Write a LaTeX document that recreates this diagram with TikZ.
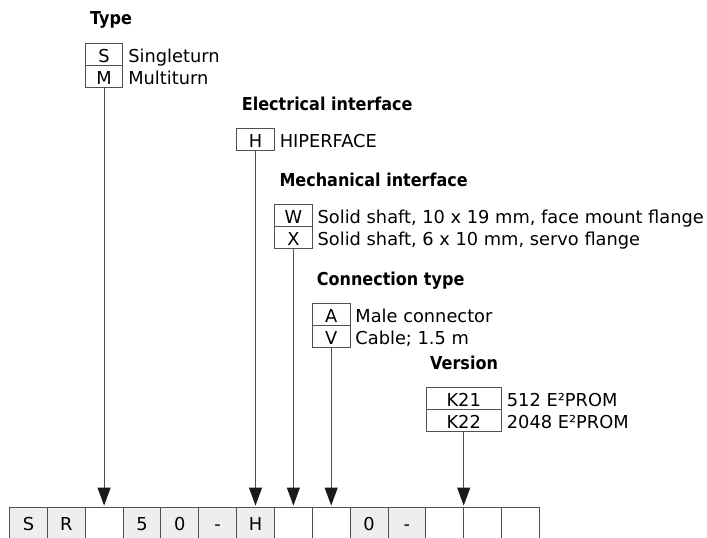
\documentclass[tikz,border=0pt]{standalone}
\usepackage{fontspec}
\setmainfont{DejaVu Sans}
\newfontfamily\headfont[FakeStretch=0.9]{DejaVu Sans}
\usetikzlibrary{arrows.meta}
\definecolor{ln}{HTML}{505050}
\definecolor{tip}{HTML}{1A1A1A}
\definecolor{cellfill}{HTML}{EEEEEE}
\begin{document}
\begin{tikzpicture}[x=1pt,y=-1pt,
  every node/.style={font=\fontsize{17.8}{20}\selectfont, text=black},
  codebox/.style={draw=ln, line width=0.9pt, minimum width=37.6pt, minimum height=22.2pt, inner sep=0pt, text height=16.2pt, text depth=0pt},
  optlabel/.style={anchor=west, inner sep=0pt, minimum height=22.2pt, text height=16.2pt, text depth=0pt},
  heading/.style={anchor=base west, inner sep=0pt, font=\headfont\bfseries\fontsize{17.8}{20}\selectfont},
  cellbox/.style={draw=ln, line width=0.9pt, minimum width=37.85pt, minimum height=37.7pt, inner sep=0pt, text height=12pt, text depth=4.3pt},
  arr/.style={draw=ln, line width=0.9pt, -{Triangle[length=18pt,width=13pt,fill=tip,color=tip]}, shorten >=1.3pt}
]
\useasboundingbox (0,0) rectangle (707,538);
\clip (0,0) rectangle (707,538);

% headings
\node[heading] (hType) at (90,24) {Type};
\node[heading] (hElec) at (241.7,110.7) {Electrical interface};
\node[heading] (hMech) at (279.3,186) {Mechanical interface};
\node[heading] (hConn) at (316.7,285) {Connection type};
\node[heading] (hVers) at (430,369) {Version};

% option boxes
\node[codebox] (typeS) at (104.1,54.6) {S};
\node[codebox] (typeM) at (104.1,76.8) {M};
\node[optlabel] (lS) at ([xshift=4.8pt]typeS.east) {Singleturn};
\node[optlabel] (lM) at ([xshift=4.8pt]typeM.east) {Multiturn};

\node[codebox] (elH) at (255.5,139.1) {H};
\node[optlabel] (lH) at ([xshift=4.8pt]elH.east) {HIPERFACE};

\node[codebox] (meW) at (293.4,215.1) {W};
\node[codebox] (meX) at (293.4,237.3) {X};
\node[optlabel] (lW) at ([xshift=4.8pt]meW.east) {Solid shaft, 10 x 19 mm, face mount flange};
\node[optlabel] (lX) at ([xshift=4.8pt]meX.east) {Solid shaft, 6 x 10 mm, servo flange};

\node[codebox] (coA) at (331.2,314.6) {A};
\node[codebox] (coV) at (331.2,336.8) {V};
\node[optlabel] (lA) at ([xshift=4.8pt]coA.east) {Male connector};
\node[optlabel] (lV) at ([xshift=4.8pt]coV.east) {Cable; 1.5 m};

\node[codebox, minimum width=75.5pt] (veA) at (463.7,398.4) {K21};
\node[codebox, minimum width=75.5pt] (veB) at (463.7,420.6) {K22};
\node[optlabel] (lK1) at ([xshift=4.8pt]veA.east) {512 E²PROM};
\node[optlabel] (lK2) at ([xshift=4.8pt]veB.east) {2048 E²PROM};

% bottom row of cells
\foreach \i/\t/\f in {1/S/cellfill,2/R/cellfill,3//white,4/5/cellfill,5/0/cellfill,6/-/cellfill,7/H/cellfill,8//white,9//white,10/0/cellfill,11/-/cellfill,12//white,13//white,14//white}{
  \node[cellbox, fill=\f] (c\i) at ({9.5+(\i-0.5)*37.85},526.15) {\t};
}

% connectors
\draw[arr] (typeM.south) -- (typeM.south |- c3.north);
\draw[arr] (elH.south) -- (elH.south |- c7.north);
\draw[arr] (meX.south) -- (meX.south |- c8.north);
\draw[arr] (coV.south) -- (coV.south |- c9.north);
\draw[arr] (veB.south) -- (veB.south |- c12.north east);
\end{tikzpicture}
\end{document}
